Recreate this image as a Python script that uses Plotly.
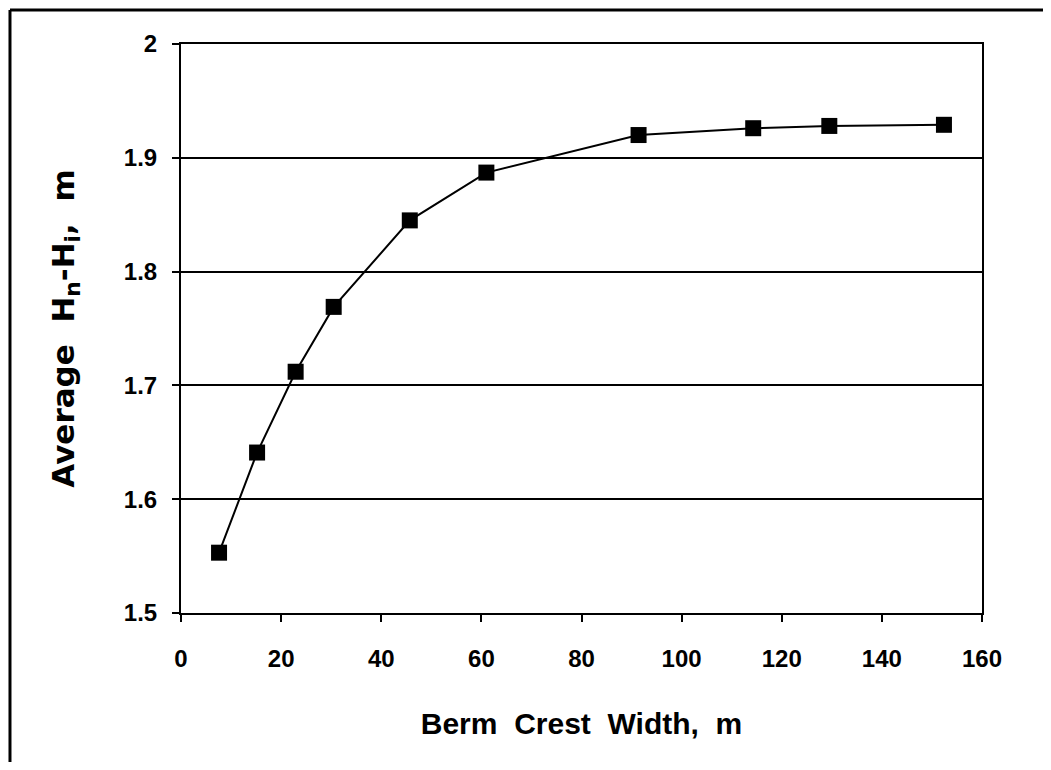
import plotly.graph_objects as go

berm_width_m = [7.6, 15.2, 22.9, 30.5, 45.7, 61.0, 91.4, 114.3, 129.5, 152.4]
avg_height_m = [1.553, 1.641, 1.712, 1.769, 1.845, 1.887, 1.920, 1.926, 1.928, 1.929]
x_ticks = [0, 20, 40, 60, 80, 100, 120, 140, 160]
y_ticks = [1.5, 1.6, 1.7, 1.8, 1.9, 2.0]
y_tick_text = ["1.5", "1.6", "1.7", "1.8", "1.9", "2"]

FONT = "Liberation Sans"

fig = go.Figure()
fig.add_trace(go.Scatter(
    x=berm_width_m, y=avg_height_m, mode="lines+markers",
    line=dict(color="black", width=2),
    marker=dict(symbol="square", size=16, color="black"),
    showlegend=False,
))

fig.update_layout(
    width=1035, height=754,
    margin=dict(l=173, r=61, t=36, b=149, autoexpand=False),
    paper_bgcolor="white", plot_bgcolor="white",
    font=dict(family=FONT, color="black", size=22, weight="bold"),
    xaxis=dict(
        range=[0, 160], tickvals=x_ticks, ticktext=[str(v) for v in x_ticks],
        showline=True, linecolor="black", linewidth=2, mirror=True,
        ticks="outside", ticklen=7, tickwidth=1.5, tickcolor="black",
        showgrid=False, zeroline=False, automargin=False,
        ticklabelstandoff=16,
        tickfont=dict(family=FONT, size=24, weight="bold"),
        title=dict(text="Berm  Crest  Width,  m", standoff=42,
                   font=dict(family=FONT, size=30, weight="bold")),
    ),
    yaxis=dict(
        range=[1.5, 2.0], tickvals=y_ticks, ticktext=y_tick_text,
        showline=True, linecolor="black", linewidth=2, mirror=True,
        ticks="outside", ticklen=7, tickwidth=1.5, tickcolor="black",
        showgrid=True, gridcolor="black", gridwidth=1.5, zeroline=False,
        automargin=False, ticklabelstandoff=10,
        tickfont=dict(family=FONT, size=24, weight="bold"),
        title=dict(text="Average  H<sub>n</sub>-H<sub>i</sub>,  m", standoff=40,
                   font=dict(family="DejaVu Sans", size=31, weight="bold")),
    ),
    shapes=[
        dict(type="line", xref="paper", yref="paper", x0=-0.2135, x1=1.09,
             y0=1.0598, y1=1.0598, line=dict(color="black", width=3)),
        dict(type="line", xref="paper", yref="paper", x0=-0.2135, x1=-0.2135,
             y0=1.0598, y1=-0.28, line=dict(color="black", width=3)),
    ],
)

fig.write_html("out.html")
